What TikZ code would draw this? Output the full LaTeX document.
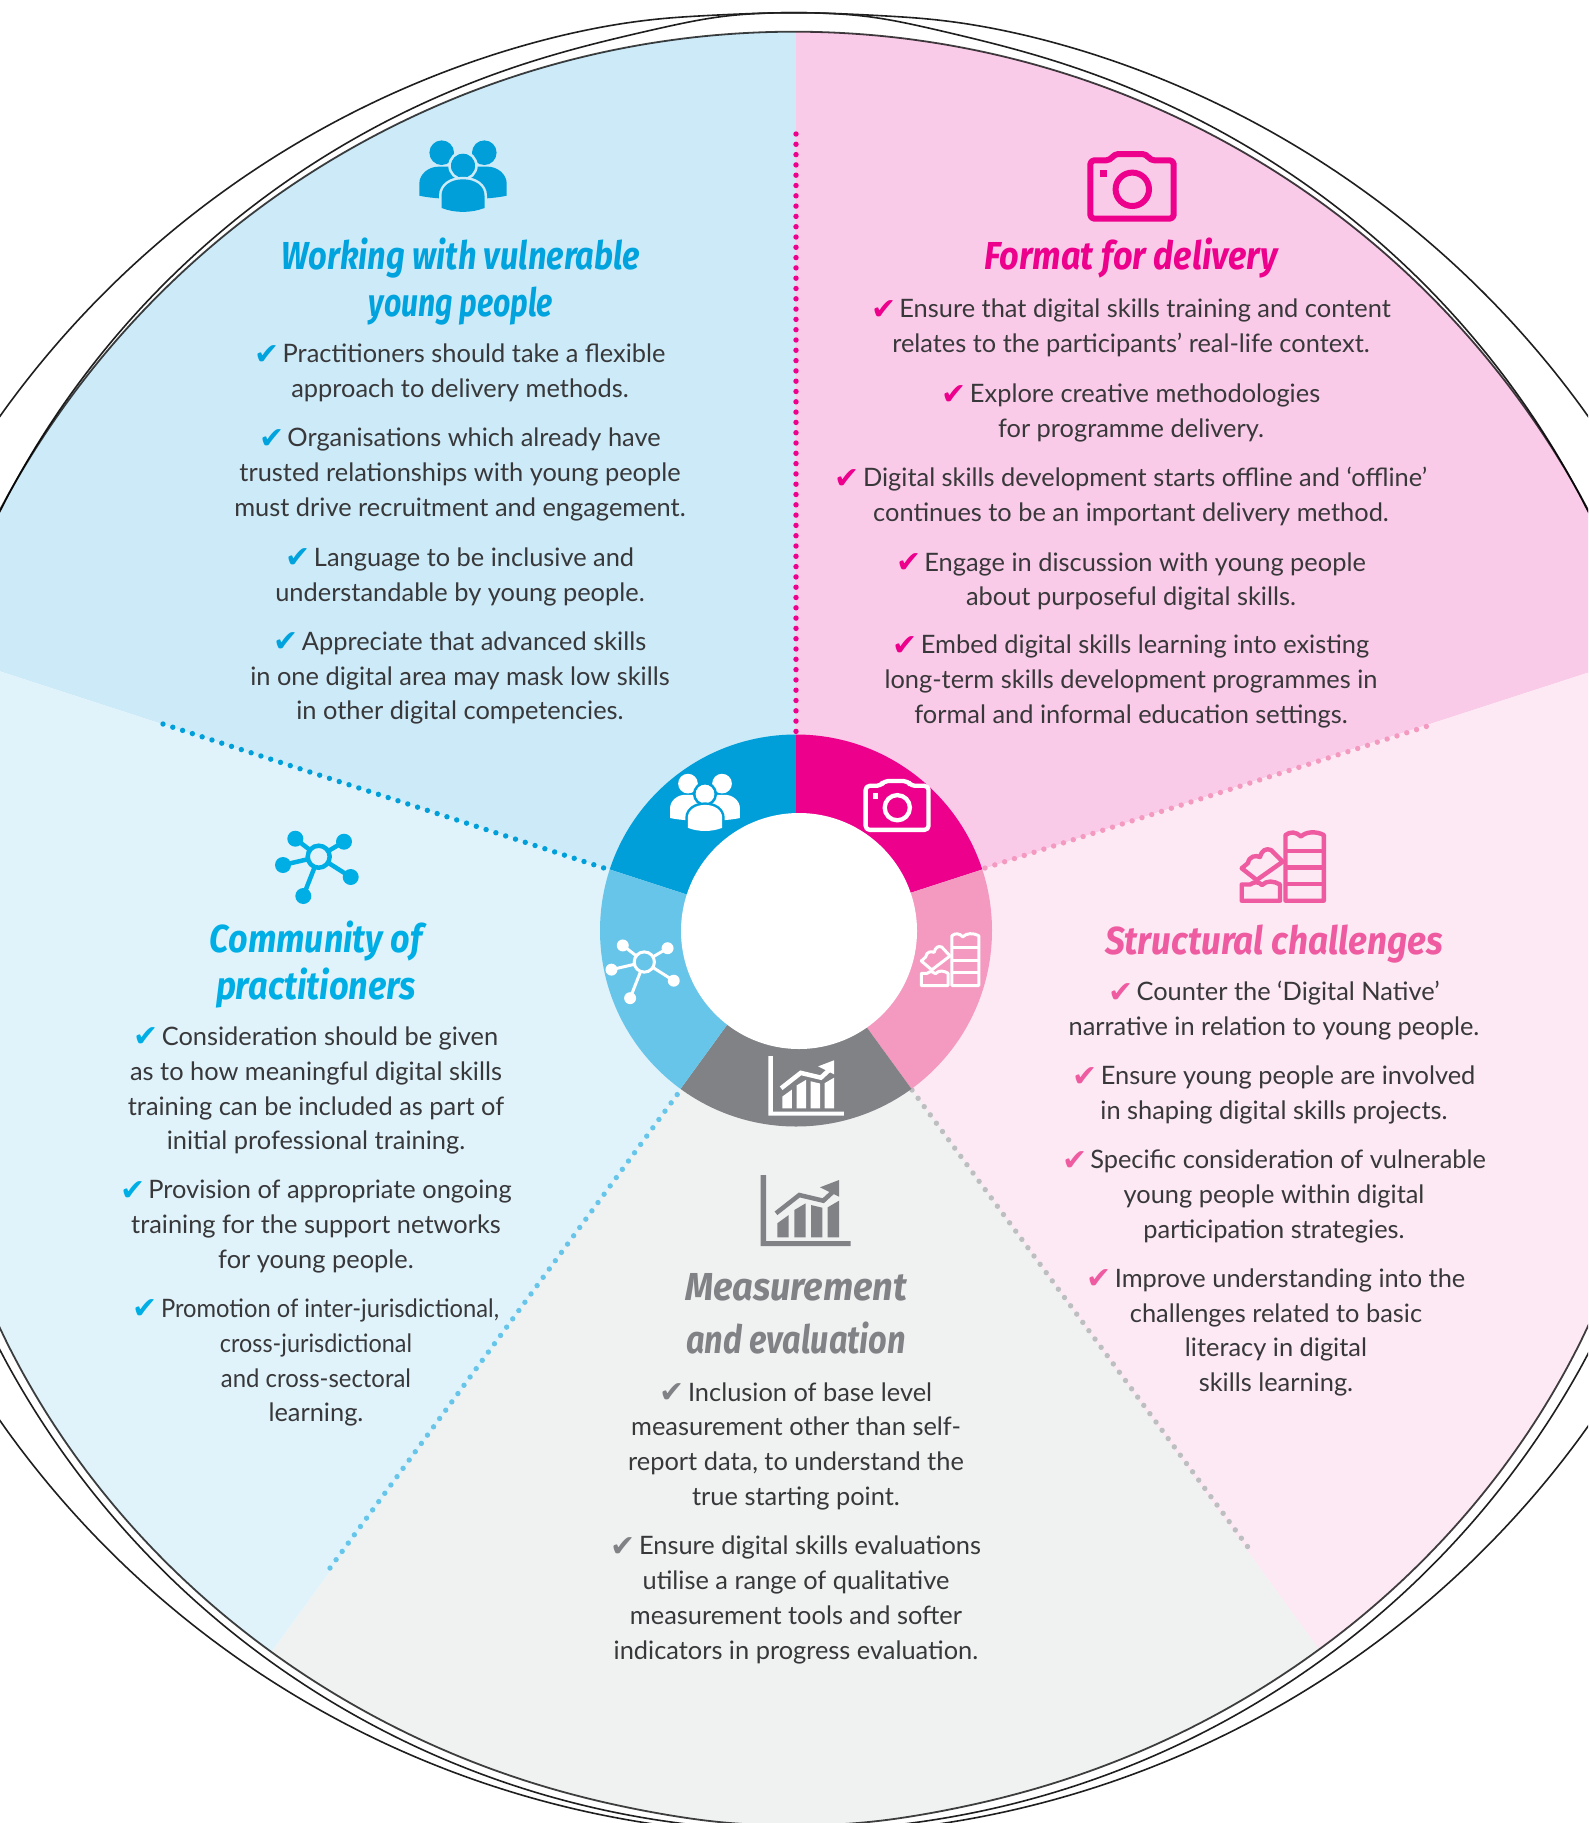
\documentclass[tikz,border=0pt]{standalone}
\usepackage{fontspec}
\usepackage{graphicx}
\setmainfont{Lato}
\newfontfamily\djv{DejaVu Sans}
\newfontfamily\ttlfont{Fira Sans}
\definecolor{cblue}{HTML}{009FDA}
\definecolor{cpink}{HTML}{EC008C}
\definecolor{crose}{HTML}{F49AC1}
\definecolor{csky}{HTML}{68C5EA}
\definecolor{cgrey}{HTML}{808285}
\definecolor{cdotgrey}{HTML}{BCBEC0}
\definecolor{wblue}{HTML}{CCEAF7}
\definecolor{wpink}{HTML}{FACBE8}
\definecolor{wrose}{HTML}{FCE9F3}
\definecolor{wsky}{HTML}{E0F3FB}
\definecolor{wgrey}{HTML}{F0F2F2}
\definecolor{tblue}{HTML}{00A3DD}
\definecolor{trose}{HTML}{EF5BA1}
\definecolor{tsky}{HTML}{00AEE6}
\definecolor{txt}{HTML}{38383A}
\def\wedgeblue{(796,930) -- (796,-1000) -- (-1106,-1000) -- (-1106,312) -- cycle}
\def\wedgepink{(796,930) -- (796,-1000) -- (2698,-1000) -- (2698,312) -- cycle}
\def\wedgerose{(796,930) -- (2698,312) -- (2698,2548) -- (1972,2548) -- cycle}
\def\wedgegrey{(796,930) -- (1972,2548) -- (-380,2548) -- cycle}
\def\wedgesky{(796,930) -- (-380,2548) -- (-1106,2548) -- (-1106,312) -- cycle}
\newcommand{\ck}[1]{\smash{\raisebox{-1.5pt}{\textcolor{#1}{\djv\fontsize{30}{30}\selectfont ✔}}}\hspace{3pt}}
\newcommand{\ttlline}[2]{\resizebox{#1pt}{\height}{#2}}
\tikzset{
  x=1pt,y=-1pt,
  declare function={
    arcv(\d,\r)=\r*sqrt(1-(\d/\r)*(\d/\r));
    bump(\d,\w)=1/(1+(\d/\w)*(\d/\w)*(\d/\w)*(\d/\w));
    quart(\d)=(\d/794)*(\d/794)*(\d/794)*(\d/794);
    topS(\x)=930-arcv(\x-794,898.3);
    botS(\x)=949.5+arcv(\x-793.5,873)+15*quart(\x-793.5)+3*bump(\x-796,130);
    topM(\x)=912-arcv(\x-794,889.5)-9.8*bump(\x-796,130);
    botM(\x)=932.6+arcv(\x-795,898);
    topO(\x)=982-arcv(\x-794,975)+5.7*bump(\x-796,130);
    botO(\x)=862+arcv(\x-796,972.5);
  },
  curve/.style={domain=-5:1593,samples=120,smooth},
  para/.style={align=center,inner sep=0pt,text=txt,yshift=-5.5pt,font=\fontsize{25.4}{34.9}\selectfont,
    execute at begin node=\strut,execute at end node=\strut},
  headline/.style={align=center,inner sep=0pt,text=#1,yshift=-2.5pt,font=\ttlfont\bfseries\itshape\fontsize{39}{47}\selectfont},
  dotline/.style={line width=5.4pt,line cap=round,dash pattern=on 0pt off 10.3pt,draw=#1},
  rimline/.style={line width=1.6pt,draw=black!88},
  pics/peopleicon/.style 2 args={code={
    \fill[#1] (-21.3,-13) circle[radius=12.3] (21.3,-13) circle[radius=12.3];
    \fill[#1] (-43.7,30) -- (-43.7,18) .. controls (-43.7,8) and (-34,1) .. (-25,1) -- (-10,1) -- (-2,34) .. controls (-15,33) and (-30,33) .. (-43.7,30) -- cycle;
    \fill[#1] (43.7,30) -- (43.7,18) .. controls (43.7,8) and (34,1) .. (25,1) -- (10,1) -- (2,34) .. controls (15,33) and (30,33) .. (43.7,30) -- cycle;
    \fill[#1] (0,0) circle[radius=12.3];
    \draw[#2,line width=2.5pt] (0,0) circle[radius=13.5];
    \path[draw=#2,line width=5pt] (-21.5,42.3) -- (-21.5,30) .. controls (-21.5,20) and (-12,13.6) .. (0,13.6) .. controls (12,13.6) and (21.5,20) .. (21.5,30) -- (21.5,42.3);
    \fill[#1] (-21.5,42.3) -- (-21.5,30) .. controls (-21.5,20) and (-12,13.6) .. (0,13.6) .. controls (12,13.6) and (21.5,20) .. (21.5,30) -- (21.5,42.3) .. controls (8,47.5) and (-8,47.5) .. (-21.5,42.3) -- cycle;
  }},
  pics/cameraicon/.style 2 args={code={
    \draw[#1,line width=#2,rounded corners=4pt,line join=round] (-42,-29) -- (-22,-29) -- (-18,-35.3) -- (14,-35.3) -- (18,-29) -- (41.4,-29) -- (41.4,29.4) -- (-42,29.4) -- cycle;
    \draw[#1,line width=#2] (0,0) circle[radius=16.7];
    \fill[#1] (-32.3,-19.3) rectangle (-25,-12);
  }},
  pics/bricksicon/.style 2 args={code={
    \draw[#1,line width=#2,line join=round] (2.5,33.7) -- (2.5,-32) .. controls (7,-35.5) and (13,-35.5) .. (18,-30.5) .. controls (23,-35.5) and (33,-36) .. (40.8,-32) -- (40.8,33.7) -- cycle;
    \draw[#1,line width=#2] (2.5,-16.3) -- (40.8,-16.3) (2.5,.3) -- (40.8,.3) (2.5,17) -- (40.8,17);
    \draw[#1,line width=#2,line join=round] (-41.3,33.7) -- (-41.3,17.5) -- (-33,17.5) .. controls (-28,14) and (-24,15) .. (-21,18) .. controls (-16,13) and (-9,14) .. (-3,17.5) -- (-3,33.7) -- cycle;
    \draw[#1,line width=#2,line join=round] (-41.3,1.3) -- (-35,-4) .. controls (-34,-11) and (-27,-12) .. (-23,-10) .. controls (-21,-17) and (-17,-19) .. (-12,-17) -- (-0.3,-5.3) -- (-26.3,13) -- cycle;
  }},
  pics/hubicon/.style n args={4}{code={
    \draw[#1,line width=#3] (0,0) -- (-23.4,-18) (0,0) -- (25.3,-15) (0,0) -- (-35.7,8.3) (0,0) -- (32,20.3) (0,0) -- (-15.4,39.3);
    \fill[#1] (-23.4,-18) circle[radius=#4] (25.3,-15) circle[radius=#4] (-35.7,8.3) circle[radius=#4] (32,20.3) circle[radius=#4] (-15.4,39.3) circle[radius=#4];
    \filldraw[draw=#1,fill=#2,line width=#3] (0,0) circle[radius=11];
  }},
  pics/charticon/.style 2 args={code={
    \fill[#1] (0,-71) -- (5.3,-71) -- (5.3,-5) -- (90,-5) -- (90,0) -- (0,0) -- cycle;
    \fill[#1] (16.6,-8.7) -- (16.6,-22.7) -- (28,-31) -- (28,-8.7) -- cycle;
    \fill[#1] (33.6,-8.7) -- (33.6,-36) -- (45,-42.7) -- (45,-8.7) -- cycle;
    \fill[#1] (50.3,-8.7) -- (50.3,-41) -- (61.6,-38.3) -- (61.6,-8.7) -- cycle;
    \fill[#1] (67,-8.7) -- (67,-38.7) -- (78.3,-45.3) -- (78.3,-8.7) -- cycle;
    \draw[#2,line width=7pt] (15.3,-32.7) -- (38.6,-51) -- (62.6,-45.3) -- (74.3,-56);
    \draw[#1,line width=4.5pt] (15.3,-32.7) -- (38.6,-51) -- (62.6,-45.3) -- (72,-54);
    \fill[#1] (59.3,-58.7) -- (78.3,-66) -- (78.3,-49.3) -- cycle;
  }}
}
\begin{document}
\begin{tikzpicture}
\useasboundingbox (0,0) rectangle (1588,1823);
\clip (0,0) rectangle (1588,1823);
\fill[white] (0,0) rectangle (1588,1823);
% big disc
\begin{scope}
  \clip plot[curve] (\x,{topS(\x)}) -- plot[curve,domain=1593:-5] (\x,{botS(\x)}) -- cycle;
  \fill[wblue] \wedgeblue;
  \fill[wpink] \wedgepink;
  \fill[wrose] \wedgerose;
  \fill[wgrey] \wedgegrey;
  \fill[wsky] \wedgesky;
\end{scope}
\draw[rimline] plot[curve] (\x,{topO(\x)});
\draw[rimline] plot[curve] (\x,{botO(\x)});
\draw[rimline] plot[curve] (\x,{topM(\x)});
\draw[rimline] plot[curve] (\x,{botM(\x)});
\draw[line width=1.8pt,draw=black,opacity=.75] plot[curve] (\x,{topS(\x)});
\draw[line width=1.8pt,draw=black,opacity=.75] plot[curve] (\x,{botS(\x)});
% separators
\coordinate (ringtop) at (796,734);
\coordinate (ringul) at (610,870);
\coordinate (ringur) at (985,868);
\coordinate (ringll) at (682,1088);
\coordinate (ringlr) at (912,1090);
\coordinate (endtop) at (796,134);
\coordinate (endul) at (163,724);
\coordinate (endur) at (1434,724);
\coordinate (endll) at (330,1568);
\coordinate (endlr) at (1253,1554);
\draw[dotline=cpink] (endtop) -- (ringtop);
\draw[dotline=cblue] (endul) -- (ringul);
\draw[dotline=crose] (ringur) -- (endur);
\draw[dotline=csky] (endll) -- (ringll);
\draw[dotline=cdotgrey] (ringlr) -- (endlr);
% ring
\begin{scope}
  \clip (796,930.5) circle[radius=196];
  \fill[cblue] \wedgeblue;
  \fill[cpink] \wedgepink;
  \fill[crose] \wedgerose;
  \fill[cgrey] \wedgegrey;
  \fill[csky] \wedgesky;
\end{scope}
\fill[white] (799,931) circle[radius=118];
% ring icons
\pic[scale=.8] at (705,794) {peopleicon={white}{cblue}};
\pic[scale=.754] at (897.3,807.7) {cameraicon={white}{4.3pt}};
\pic[xscale=.7,yscale=.76] at (950.2,960) {bricksicon={white}{3pt}};
\pic[scale=.92] at (644.3,962) {hubicon={white}{csky}{3pt}{6.5}};
\pic[scale=.84] at (768.3,1115.7) {charticon={white}{cgrey}};
% big icons
\pic at (463,165.7) {peopleicon={cblue}{wblue}};
\pic at (1132.3,189.3) {cameraicon={cpink}{6pt}};
\pic at (1283,867) {bricksicon={trose}{4.4pt}};
\pic at (318.7,856.7) {hubicon={tsky}{wsky}{4.5pt}{8}};
\pic at (760.7,1246) {charticon={cgrey}{wgrey}};
% titles
\node[headline=tblue] (t1) at (461,279.5) {\ttlline{358}{Working with vulnerable}\\\ttlline{184}{young people}};
\node[headline=cpink] (t2) at (1131,256) {\ttlline{293}{Format for delivery}};
\node[headline=trose] (t3) at (1274,942) {\ttlline{338}{Structural challenges}};
\node[headline=tsky] (t4) at (316,962) {\ttlline{212}{Community of}\\\ttlline{200}{practitioners}};
\node[headline=cgrey] (t5) at (796,1311) {\ttlline{222}{Measurement}\\[6pt]\ttlline{220}{and evaluation}};
% Working with vulnerable young people
\node[para] (a1) at (460,370.8) {\ck{tblue}Practitioners should take a flexible\\approach to delivery methods.};
\node[para] (a2) at (460,472) {\ck{tblue}Organisations which already have\\trusted relationships with young people\\must drive recruitment and engagement.};
\node[para] (a3) at (460,574.3) {\ck{tblue}Language to be inclusive and\\understandable by young people.};
\node[para] (a4) at (460,675.4) {\ck{tblue}Appreciate that advanced skills\\in one digital area may mask low skills\\in other digital competencies.};
% Format for delivery
\node[para] (b1) at (1131,325.5) {\ck{cpink}Ensure that digital skills training and content\\relates to the participants’ real-life context.};
\node[para] (b2) at (1131,410.4) {\ck{cpink}Explore creative methodologies\\for programme delivery.};
\node[para] (b3) at (1131,494) {\ck{cpink}Digital skills development starts offline and ‘offline’\\continues to be an important delivery method.};
\node[para] (b4) at (1131,578.9) {\ck{cpink}Engage in discussion with young people\\about purposeful digital skills.};
\node[para] (b5) at (1131,678.9) {\ck{cpink}Embed digital skills learning into existing\\long-term skills development programmes in\\formal and informal education settings.};
% Structural challenges
\node[para] (c1) at (1274,1008) {\ck{trose}Counter the ‘Digital Native’\\narrative in relation to young people.};
\node[para] (c2) at (1274,1092.8) {\ck{trose}Ensure young people are involved\\in shaping digital skills projects.};
\node[para] (c3) at (1274,1193.9) {\ck{trose}Specific consideration of vulnerable\\young people within digital\\participation strategies.};
\node[para] (c4) at (1276,1329.9) {\ck{trose}Improve understanding into the\\challenges related to basic\\literacy in digital\\skills learning.};
% Community of practitioners
\node[para] (d1) at (316,1088) {\ck{tsky}Consideration should be given\\as to how meaningful digital skills\\training can be included as part of\\initial professional training.};
\node[para] (d2) at (316,1224) {\ck{tsky}Provision of appropriate ongoing\\training for the support networks\\for young people.};
\node[para] (d3) at (316,1360) {\ck{tsky}\ttlline{338}{Promotion of inter-jurisdictional,}\\\ttlline{192}{cross-jurisdictional}\\\ttlline{190}{and cross-sectoral}\\learning.};
% Measurement and evaluation
\node[para] (e1) at (796,1443.8) {\ck{cgrey}Inclusion of base level\\measurement other than self-\\report data, to understand the\\true starting point.};
\node[para] (e2) at (796,1597.3) {\ck{cgrey}Ensure digital skills evaluations\\utilise a range of qualitative\\measurement tools and softer\\indicators in progress evaluation.};
\end{tikzpicture}
\end{document}
